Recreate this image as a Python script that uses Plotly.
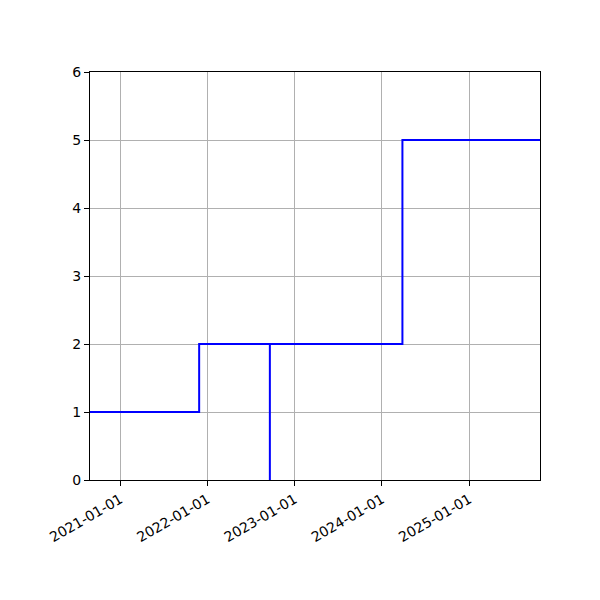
import plotly.graph_objects as go

dates = ["2020-08-27", "2021-11-27", "2022-09-19", "2022-09-19", "2024-03-27", "2025-10-24"]
values = [1, 2, 0, 2, 5, 5]
tick_dates = ["2021-01-01", "2022-01-01", "2023-01-01", "2024-01-01", "2025-01-01"]

fig = go.Figure()
fig.add_trace(go.Scatter(x=dates, y=values, mode="lines", line_shape="hv",
                         line=dict(color="blue", width=2)))

axis_style = dict(showline=True, linecolor="black", linewidth=1, mirror=True,
                  ticks="outside", ticklen=5, tickcolor="black",
                  showgrid=True, gridcolor="#b0b0b0", gridwidth=1, zeroline=False)

fig.update_xaxes(range=["2020-08-27", "2025-10-24"], tickvals=tick_dates,
                 ticktext=tick_dates, tickangle=-30, **axis_style)
fig.update_yaxes(range=[0, 6], tickvals=[0, 1, 2, 3, 4, 5, 6], **axis_style)

# page adds an 8px body margin, so margins are shifted to compensate
fig.update_layout(width=600, height=600, showlegend=False,
                  margin=dict(l=82, r=68, t=64, b=128),
                  plot_bgcolor="white", paper_bgcolor="white",
                  font=dict(family="DejaVu Sans", size=14, color="black"))

fig.write_html("out.html")
